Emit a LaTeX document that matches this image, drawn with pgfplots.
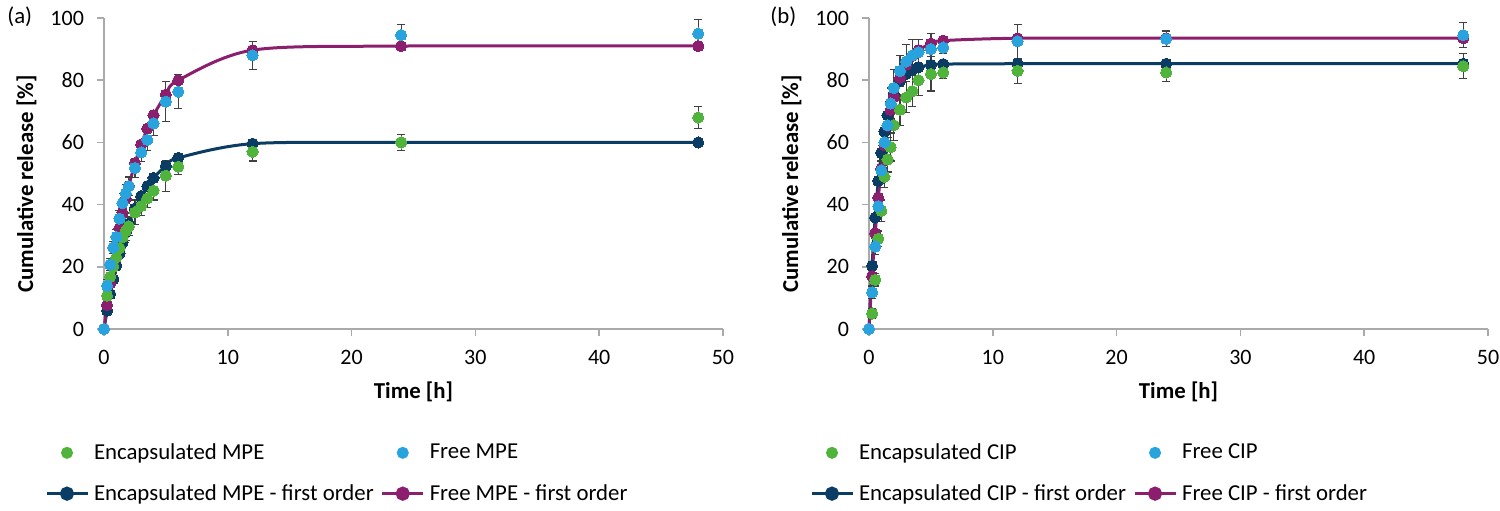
\documentclass[border=0pt]{standalone}
\usepackage{fontspec}
\setmainfont{Carlito}
\usepackage{pgfplots}
\usepackage{pgfplotstable}
\pgfplotsset{compat=1.18}
\definecolor{cgreen}{RGB}{80,180,60}
\definecolor{cblue}{RGB}{41,163,222}
\definecolor{cnavy}{RGB}{10,60,100}
\definecolor{cpurple}{RGB}{140,30,110}
\definecolor{axgray}{RGB}{170,170,170}
\newcommand\fs{\fontsize{11}{13.2}\selectfont}
\newcommand\fl{\fontsize{11.4}{13.6}\selectfont}

\pgfplotstableread{
t    enc   encE  free  freeE  encF   freeF
0    0     0     0     0      0      0
0.25 10.7  2     13.9  2      5.91   7.66
0.5  16.8  2     20.7  2      11.24  14.69
0.75 20.0  2     26.2  2      16.05  21.11
1    23.0  2     29.6  2.5    20.38  27.00
1.25 26.0  2.5   35.5  2.5    24.28  32.39
1.5  29.5  3     40.5  3      27.80  37.33
1.75 31.5  3     43.5  3      30.98  41.85
2    33.0  3     45.9  3      33.84  45.99
2.5  37.5  4     51.8  3      38.74  53.25
3    39.5  3     56.8  3      42.73  59.35
3.5  42.0  3     60.8  3.5    45.96  64.46
4    44.5  3     66.1  4      48.59  68.74
5    49.3  5     73.1  6.5    52.47  75.35
6    52.2  2.5   76.3  5.5    55.03  79.99
12   57.0  3     88.0  4.5    59.59  89.67
24   60.0  2.5   94.5  3.5    60.00  90.98
48   68.0  3.5   95.0  4.5    60.00  91.00
}\leftdata

\pgfplotstableread{
t    enc   encE  free  freeE  encF   freeF
0    0     0     0     0      0      0
0.25 5.0   1.5   11.8  2      20.34  16.95
0.5  15.8  2     26.5  2.5    35.84  30.82
0.75 29.0  2.5   39.5  3      47.64  42.19
1    38.0  3.5   51.0  3      56.62  51.49
1.25 49.0  3.5   60.0  3.5    63.46  59.10
1.5  54.5  4     65.5  4      68.67  65.34
1.75 58.5  4.5   72.5  5      72.63  70.44
2    65.5  5     77.5  6      75.66  74.62
2.5  70.5  5     83.0  5      79.71  80.85
3    74.5  5     86.0  5.5    82.06  85.02
3.5  76.5  5     88.0  5      83.42  87.81
4    80.0  5     89.0  4      84.21  89.69
5    82.0  5.5   90.0  5      84.93  91.79
6    82.5  2     90.5  2      85.18  92.73
12   83.0  4     92.5  5.5    85.30  93.49
24   82.5  2.8   93.3  2.5    85.30  93.50
48   84.5  4     94.5  4      85.30  93.50
}\rightdata

\pgfplotsset{
  myax/.style={
    scale only axis, width=309.5pt, height=155.5pt,
    xmin=0, xmax=50, ymin=0, ymax=100,
    xtick={0,10,...,50}, ytick={0,20,...,100},
    axis lines=left, axis line style={-, draw=axgray, line width=0.8pt},
    tick style={draw=axgray, line width=0.8pt}, tick align=outside,
    major tick length=3.5pt,
    /pgf/number format/assume math mode=true,
    ticklabel style={font=\fs, text=black},
    xticklabel style={anchor=north, yshift=-3.5pt},
    yticklabel style={anchor=east, xshift=-3pt},
    label style={font=\fl\bfseries},
    xlabel={Time [h]},
    ylabel={Cumulative release [\%]},
    xlabel style={at={(axis description cs:0.5,-0.222)}, anchor=base},
    ylabel style={at={(axis description cs:-0.1147,0.466)}, anchor=base},
    clip=false,
    legend columns=2,
    legend cell align=left,
    legend style={draw=none, fill=none, font=\fl, inner sep=0pt, outer sep=0pt,
      at={(axis description cs:-0.0953,-0.355)}, anchor=north west,
      row sep=7pt,
      nodes={inner xsep=2.5pt},
      /tikz/every even column/.append style={column sep=1pt}},
  },
  mylineleg/.style={legend image code/.code={\draw[mark repeat=2,mark phase=2,##1] plot coordinates {(0pt,0pt) (10.25pt,0pt) (20.5pt,0pt)};}},
  mymarkleg/.style={legend image code/.code={\draw[##1] plot coordinates {(10.25pt,0pt)};}},
  fitline/.style={smooth, tension=0.5, line width=1.5pt, color=#1, mark=*, mark size=2.8pt, mark options={fill=#1, draw=#1, line width=0pt}},
  obspts/.style={only marks, color=#1, mark=*, mark size=2.8pt, mark options={fill=#1, draw=#1, line width=0pt},
    error bars/y dir=both, error bars/y explicit,
    error bars/error bar style={line width=0.6pt, draw=black!75},
    error bars/error mark options={line width=0.6pt, draw=black!75, mark size=2pt, rotate=90}},
}

\begin{document}
\begin{tikzpicture}
\useasboundingbox (0,0) rectangle (750pt,255pt);
\node[anchor=base west, font=\fl, inner sep=0pt] at (3.5pt,243pt) {(a)};
\node[anchor=base west, font=\fl, inner sep=0pt] at (385pt,243pt) {(b)};

\begin{axis}[myax, at={(52pt,90.5pt)}, anchor=south west]
\addplot[fitline=cnavy, forget plot] table[x=t, y=encF] {\leftdata};
\addplot[fitline=cpurple, forget plot] table[x=t, y=freeF] {\leftdata};
\addplot[obspts=cgreen, forget plot] table[x=t, y=enc, y error=encE] {\leftdata};
\addplot[obspts=cblue, forget plot] table[x=t, y=free, y error=freeE] {\leftdata};
\addlegendimage{mymarkleg, mark=*, mark size=2.8pt, color=cgreen}
\addlegendentry{Encapsulated MPE}
\addlegendimage{mymarkleg, mark=*, mark size=2.8pt, color=cblue}
\addlegendentry{Free MPE}
\addlegendimage{mylineleg, line width=1.5pt, mark=*, mark size=2.8pt, color=cnavy}
\addlegendentry{Encapsulated MPE - first order}
\addlegendimage{mylineleg, line width=1.5pt, mark=*, mark size=2.8pt, color=cpurple}
\addlegendentry{Free MPE - first order}
\end{axis}

\begin{axis}[myax, at={(434.5pt,90.5pt)}, anchor=south west]
\addplot[fitline=cnavy, forget plot] table[x=t, y=encF] {\rightdata};
\addplot[fitline=cpurple, forget plot] table[x=t, y=freeF] {\rightdata};
\addplot[obspts=cgreen, forget plot] table[x=t, y=enc, y error=encE] {\rightdata};
\addplot[obspts=cblue, forget plot] table[x=t, y=free, y error=freeE] {\rightdata};
\addlegendimage{mymarkleg, mark=*, mark size=2.8pt, color=cgreen}
\addlegendentry{Encapsulated CIP}
\addlegendimage{mymarkleg, mark=*, mark size=2.8pt, color=cblue}
\addlegendentry{Free CIP}
\addlegendimage{mylineleg, line width=1.5pt, mark=*, mark size=2.8pt, color=cnavy}
\addlegendentry{Encapsulated CIP - first order}
\addlegendimage{mylineleg, line width=1.5pt, mark=*, mark size=2.8pt, color=cpurple}
\addlegendentry{Free CIP - first order}
\end{axis}
\end{tikzpicture}
\end{document}
